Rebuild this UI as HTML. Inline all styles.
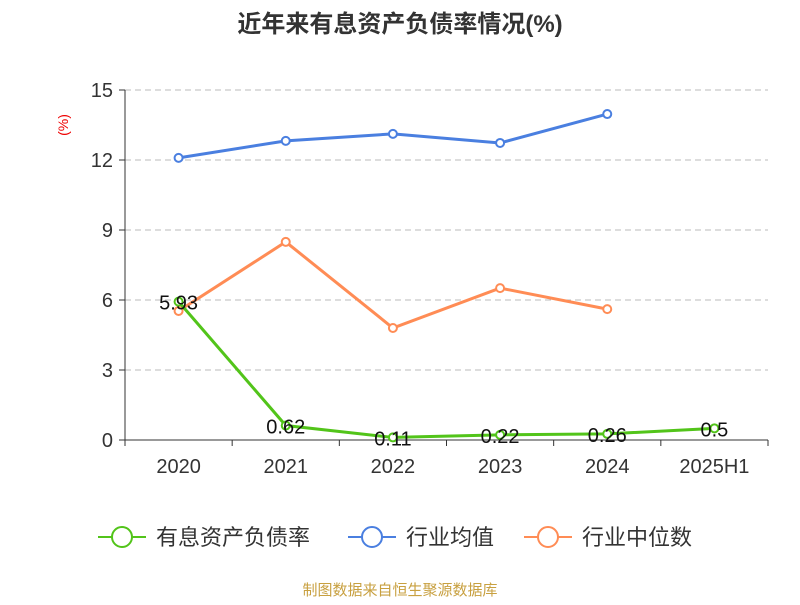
<!DOCTYPE html>
<html><head><meta charset="utf-8"><style>
body{margin:0;background:#fff;font-family:"Liberation Sans","Noto Sans CJK SC",sans-serif}
svg text{font-family:"Liberation Sans","Noto Sans CJK SC",sans-serif}
</style></head><body>
<svg id="chart" width="800" height="600" xmlns="http://www.w3.org/2000/svg">
<text x="400" y="32" text-anchor="middle" font-size="24" font-weight="bold" fill="#333">近年来有息资产负债率情况(%)</text>
<text x="68" y="125" text-anchor="middle" font-size="14" fill="#e00" transform="rotate(-90 68 125)">(%)</text>
<g id="grid"></g><g id="axes"></g><g id="series"></g>
<g>
<g><line x1="98" y1="537" x2="146" y2="537" stroke="#52c41a" stroke-width="2"/><circle cx="122" cy="537" r="10" fill="#fff" stroke="#52c41a" stroke-width="2"/><text x="156" y="545" font-size="22" fill="#333">有息资产负债率</text></g>
<g><line x1="348" y1="537" x2="396" y2="537" stroke="#4a7fe0" stroke-width="2"/><circle cx="372" cy="537" r="10" fill="#fff" stroke="#4a7fe0" stroke-width="2"/><text x="406" y="545" font-size="22" fill="#333">行业均值</text></g>
<g><line x1="524" y1="537" x2="572" y2="537" stroke="#ff8c55" stroke-width="2"/><circle cx="548" cy="537" r="10" fill="#fff" stroke="#ff8c55" stroke-width="2"/><text x="582" y="545" font-size="22" fill="#333">行业中位数</text></g>
</g>
<text x="400" y="595" text-anchor="middle" font-size="15" fill="#c8a040">制图数据来自恒生聚源数据库</text>
</svg>
<script>
const categories=["2020","2021","2022","2023","2024","2025H1"];
const debtRatio=[5.93,0.62,0.11,0.22,0.26,0.5];
const industryAvg=[12.09,12.82,13.12,12.73,13.97];
const industryMedian=[5.53,8.49,4.8,6.51,5.61];
const yTicks=[0,3,6,9,12,15];
const NS="http://www.w3.org/2000/svg";
const plotLeft=125,plotRight=768,plotTop=90,plotBottom=440,yMax=15;
const band=(plotRight-plotLeft)/categories.length;
const xS=i=>plotLeft+band*(i+0.5);
const yS=v=>plotBottom-(v/yMax)*(plotBottom-plotTop);
function mk(tag,attrs,parent){const e=document.createElementNS(NS,tag);for(const k in attrs)e.setAttribute(k,attrs[k]);parent.appendChild(e);return e;}
const grid=document.getElementById('grid'),axes=document.getElementById('axes'),ser=document.getElementById('series');
yTicks.forEach(t=>{
 if(t>0){const g=mk('line',{x1:plotLeft,x2:plotRight,y1:yS(t),y2:yS(t),stroke:'#bbb','stroke-dasharray':'6,4'},grid);
 
 }
 const tk=mk('line',{x1:plotLeft-6,x2:plotLeft,y1:yS(t),y2:yS(t),stroke:'#333'},axes);
 
 
 const tx=mk('text',{x:plotLeft-12,y:yS(t)+7,'text-anchor':'end','font-size':20,fill:'#333'},axes);tx.textContent=t;
 
 
});
const ya=mk('line',{x1:plotLeft,x2:plotLeft,y1:plotTop,y2:plotBottom,stroke:'#333'},axes);


const xa=mk('line',{x1:plotLeft,x2:plotRight,y1:plotBottom,y2:plotBottom,stroke:'#333'},axes);


for(let i=0;i<=categories.length;i++){const t=mk('line',{x1:plotLeft+band*i,x2:plotLeft+band*i,y1:plotBottom,y2:plotBottom+6,stroke:'#333'},axes);
 
 }
categories.forEach((c,i)=>{const t=mk('text',{x:xS(i),y:plotBottom+33,'text-anchor':'middle','font-size':20,fill:'#333'},axes);t.textContent=c;
 
 });
function draw(data,color,name,labels){
 const pts=data.map((v,i)=>xS(i)+','+yS(v)).join(' ');
 const pl=mk('polyline',{points:pts,fill:'none',stroke:color,'stroke-width':3},ser);
 
 
 data.forEach((v,i)=>{const c=mk('circle',{cx:xS(i),cy:yS(v),r:4,fill:'#fff',stroke:color,'stroke-width':2},ser);
  
  
  if(labels){const t=mk('text',{x:xS(i),y:yS(v)+8,'text-anchor':'middle','font-size':20,fill:'#111'},ser);t.textContent=v;
  
  }});
}
draw(industryAvg,'#4a7fe0','industry-avg',false);
draw(industryMedian,'#ff8c55','industry-median',false);
draw(debtRatio,'#52c41a','debt-ratio',true);
</script>
</body></html>
